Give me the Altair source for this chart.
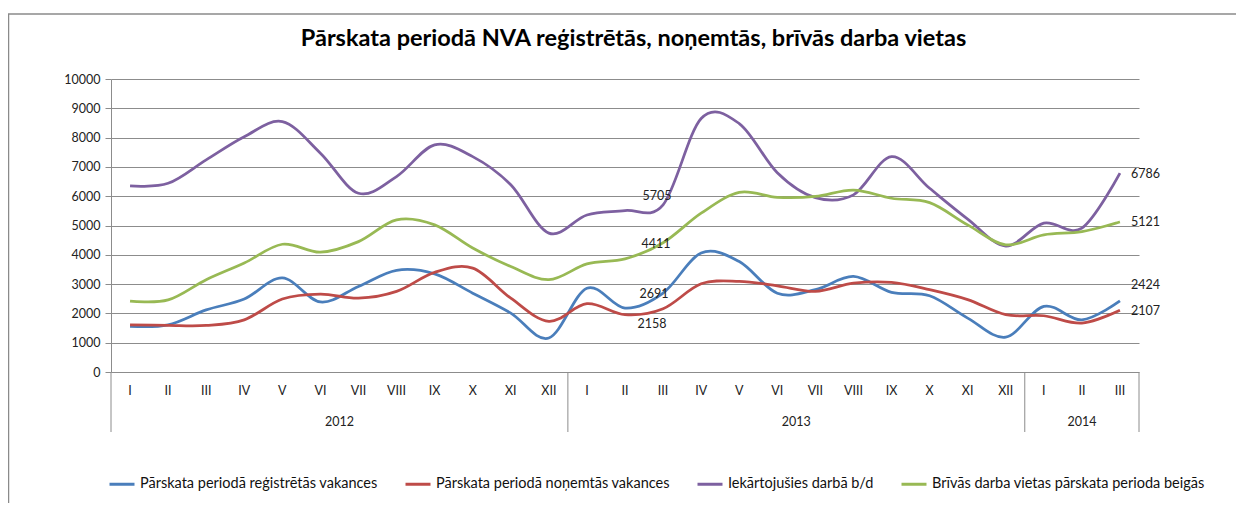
import altair as alt
import pandas as pd

# ---- data ----
chart_title = "Pārskata periodā NVA reģistrētās, noņemtās, brīvās darba vietas"
months = ["I", "II", "III", "IV", "V", "VI", "VII", "VIII", "IX", "X", "XI", "XII"]
years = ["2012", "2013", "2014"]
months_per_year = [12, 12, 3]

series_names = [
    "Pārskata periodā reģistrētās vakances",
    "Pārskata periodā noņemtās vakances",
    "Iekārtojušies darbā b/d",
    "Brīvās darba vietas pārskata perioda beigās",
]
series_colors = ["#4A7EBB", "#BE4B48", "#7D60A0", "#98B954"]

registered = [1560, 1610, 2120, 2490, 3210, 2390, 2920, 3470, 3350, 2690, 2010, 1160,
              2860, 2180, 2691, 4060, 3770, 2690, 2810, 3260, 2720, 2600, 1840, 1190,
              2240, 1780, 2424]
removed = [1610, 1590, 1590, 1780, 2490, 2660, 2520, 2750, 3400, 3545, 2520, 1730,
           2330, 1955, 2158, 3010, 3090, 2940, 2750, 3030, 3060, 2810, 2470, 1955,
           1920, 1670, 2107]
employed = [6350, 6440, 7240, 8030, 8545, 7470, 6100, 6670, 7750, 7350, 6390, 4740,
            5360, 5510, 5705, 8650, 8480, 6800, 5950, 6045, 7350, 6270, 5220, 4300,
            5080, 4910, 6786]
free_places = [2420, 2460, 3150, 3720, 4360, 4090, 4450, 5190, 5020, 4230, 3600, 3150,
               3690, 3860, 4411, 5420, 6130, 5960, 5990, 6210, 5930, 5780, 5020, 4340,
               4680, 4790, 5121]

all_values = [registered, removed, employed, free_places]
y_ticks = list(range(0, 10001, 1000))

# ---- tables ----
period_labels = []
for y, n in zip(years, months_per_year):
    period_labels += months[:n]
n_periods = len(period_labels)

rows = []
for name, vals in zip(series_names, all_values):
    for i, v in enumerate(vals):
        rows.append({"pos": i + 0.5, "value": v, "series": name, "idx": i})
df = pd.DataFrame(rows)

month_df = pd.DataFrame({"pos": [i + 0.5 for i in range(n_periods)], "label": period_labels})

starts = [0]
for n in months_per_year:
    starts.append(starts[-1] + n)
year_df = pd.DataFrame({
    "pos": [(starts[k] + starts[k + 1]) / 2 for k in range(len(years))],
    "label": years,
})
sep_df = pd.DataFrame({"pos": starts})

FONT = "Lato"
GRID = "#8c8c8c"

x_scale = alt.Scale(domain=[0, n_periods], nice=False, zero=False)
x_enc = alt.X("pos:Q", scale=x_scale, axis=None)
y_enc = alt.Y("value:Q",
              scale=alt.Scale(domain=[0, 10000], nice=False),
              axis=alt.Axis(values=y_ticks, format="d", title=None,
                            tickSize=6, tickColor=GRID, domainColor=GRID, gridColor=GRID,
                            gridWidth=1, labelFont=FONT, labelFontSize=12.5,
                            labelColor="#222", labelPadding=5, labelOverlap=False))

lines = alt.Chart(df).mark_line(strokeWidth=2.75, interpolate="cardinal").encode(
    x=x_enc,
    y=y_enc,
    color=alt.Color("series:N",
                    scale=alt.Scale(domain=series_names, range=series_colors),
                    sort=series_names,
                    legend=alt.Legend(title=None, orient="none", legendX=-3, legendY=391,
                                      direction="horizontal", symbolType="stroke",
                                      symbolStrokeWidth=3, symbolSize=625,
                                      labelFont=FONT, labelFontSize=14.5, labelColor="#111",
                                      labelLimit=400, labelOffset=4, columnPadding=21)),
    order="idx:Q",
)

months_txt = alt.Chart(month_df).mark_text(font=FONT, fontSize=12.5, color="#222",
                                           baseline="middle").encode(
    x=x_enc, y=alt.value(312), text="label:N")
years_txt = alt.Chart(year_df).mark_text(font=FONT, fontSize=12.5, color="#222",
                                         baseline="middle").encode(
    x=x_enc, y=alt.value(343), text="label:N")
seps = alt.Chart(sep_df).mark_rule(color=GRID, strokeWidth=1).encode(
    x=x_enc, y=alt.value(293), y2=alt.value(353))

# data labels (index into arrays, series, offset)
label_specs = [
    (14, 2, -6, -9, "center"),
    (14, 3, -7, 1, "center"),
    (14, 0, -9, 1, "center"),
    (14, 1, -11, 15, "center"),
    (26, 2, 11, 1, "left"),
    (26, 3, 11, 0, "left"),
    (26, 0, 11, -16, "left"),
    (26, 1, 11, 1, "left"),
]
label_layers = []
for idx, s, dx, dy, al in label_specs:
    ldf = pd.DataFrame({"pos": [idx + 0.5], "value": [all_values[s][idx]]})
    label_layers.append(
        alt.Chart(ldf).mark_text(font=FONT, fontSize=12.5, color="#222", align=al,
                                 baseline="middle", dx=dx, dy=dy).encode(
            x=x_enc, y=y_enc, text=alt.Text("value:Q", format="d")))

one = pd.DataFrame({"t": [chart_title]})
title_txt = alt.Chart(one).mark_text(font=FONT, fontSize=23.5, fontWeight="bold",
                                     color="#000", align="center",
                                     baseline="alphabetic").encode(
    x=alt.value(522.5), y=alt.value(-33), text="t:N")
border_top = alt.Chart(one).mark_rule(color="#8a8a8a", strokeWidth=1.5).encode(
    x=alt.value(-103), x2=alt.value(1125), y=alt.value(-65))
border_left = alt.Chart(one).mark_rule(color="#8a8a8a", strokeWidth=1.5).encode(
    x=alt.value(-102.5), y=alt.value(-65), y2=alt.value(424))

chart = alt.layer(border_top, border_left, title_txt, seps, months_txt, years_txt, lines,
                  *label_layers).properties(
    width=1028, height=293,
    autosize=alt.AutoSizeParams(type="none"),
    padding={"left": 103, "top": 71, "right": 97, "bottom": 131},
).configure_view(stroke=None).configure_axis(labelOverlap=False)

chart.save("out.html", embed_options={"renderer": "svg", "actions": False})
